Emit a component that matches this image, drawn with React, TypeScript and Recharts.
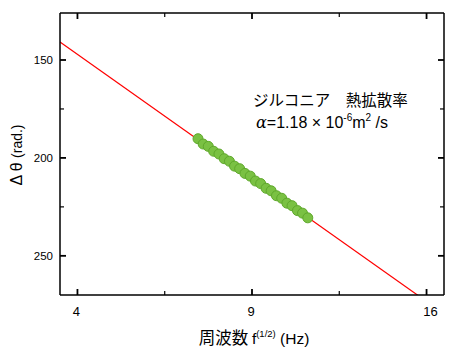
import React from "react";
import { ComposedChart, Line, Scatter, XAxis, YAxis } from "recharts";

const fitX = [3.61, 16.81];
const fitY = [140.8, 279.6];

const measX = [7.24, 7.40, 7.56, 7.73, 7.90, 8.07, 8.24, 8.41, 8.58, 8.76, 8.94, 9.12, 9.30, 9.49, 9.67, 9.86, 10.05, 10.24, 10.43, 10.63, 10.82, 11.02];
const measY = [190.2, 192.9, 194.1, 196.6, 198.0, 200.4, 201.7, 204.2, 205.5, 207.9, 209.3, 211.8, 213.1, 215.5, 216.8, 219.3, 220.6, 223.1, 224.4, 226.9, 228.2, 230.6];

const xTicks = [4, 6.25, 9, 12.25, 16];
const xMajor = [4, 9, 16];
const yTicks = [150, 175, 200, 225, 250];
const yMajor = [150, 200, 250];

const fitData = fitX.map((x, i) => ({ x, y: fitY[i] }));
const measData = measX.map((x, i) => ({ x, y: measY[i] }));

const FONT = "'Liberation Sans', Arial, sans-serif";
const CJK = "'Noto Sans CJK JP', 'Liberation Sans', sans-serif";

const BottomTick = (props: any) => {
  const { x, y, payload } = props;
  const major = xMajor.includes(payload.value);
  return (
    <g>
      <line x1={x} y1={y} x2={x} y2={y - (major ? 6 : 4)} stroke="#000" strokeWidth={major ? 1.8 : 1.2} />
      {major && (
        <text x={payload.value === 16 ? x + 4 : x - 1} y={y + 21} textAnchor="middle" fontSize={13} fontFamily={FONT} fill="#000">
          {payload.value}
        </text>
      )}
    </g>
  );
};

const TopTick = (props: any) => {
  const { x, y, payload } = props;
  const major = xMajor.includes(payload.value);
  return <line x1={x} y1={y} x2={x} y2={y + (major ? 6 : 4)} stroke="#000" strokeWidth={major ? 1.8 : 1.2} />;
};

const LeftTick = (props: any) => {
  const { x, y, payload } = props;
  const major = yMajor.includes(payload.value);
  return (
    <g>
      <line x1={x} y1={y} x2={x + (major ? 6 : 4)} y2={y} stroke="#000" strokeWidth={major ? 1.8 : 1.2} />
      {major && (
        <text x={x - 7} y={y + 4} textAnchor="end" fontSize={11.5} fontFamily={FONT} fill="#000">
          {payload.value}
        </text>
      )}
    </g>
  );
};

const RightTick = (props: any) => {
  const { x, y, payload } = props;
  const major = yMajor.includes(payload.value);
  return <line x1={x} y1={y} x2={x - (major ? 6 : 4)} y2={y} stroke="#000" strokeWidth={major ? 1.8 : 1.2} />;
};

const axisLine = { stroke: "#000", strokeWidth: 1.5 };

export default function App() {
  return (
    <div style={{ position: "absolute", left: 0, top: 0, width: 450, height: 352, background: "#fff" }}>
      <ComposedChart width={450} height={352} margin={{ top: 12, right: 5, bottom: 56, left: 59 }}>
        <XAxis
          xAxisId="b"
          orientation="bottom"
          dataKey="x"
          type="number"
          scale="sqrt"
          domain={[3.61, 16.81]}
          allowDataOverflow
          ticks={xTicks}
          interval={0}
          height={1}
          tickSize={0}
          tickMargin={0}
          tickLine={false}
          tick={BottomTick}
          axisLine={axisLine}
        />
        <XAxis
          xAxisId="t"
          orientation="top"
          dataKey="x"
          type="number"
          scale="sqrt"
          domain={[3.61, 16.81]}
          allowDataOverflow
          ticks={xTicks}
          interval={0}
          height={1}
          tickSize={0}
          tickMargin={0}
          tickLine={false}
          tick={TopTick}
          axisLine={axisLine}
        />
        <YAxis
          yAxisId="l"
          orientation="left"
          type="number"
          reversed
          domain={[126, 270]}
          allowDataOverflow
          ticks={yTicks}
          interval={0}
          width={1}
          tickSize={0}
          tickMargin={0}
          tickLine={false}
          tick={LeftTick}
          axisLine={axisLine}
        />
        <YAxis
          yAxisId="r"
          orientation="right"
          type="number"
          reversed
          domain={[126, 270]}
          allowDataOverflow
          ticks={yTicks}
          interval={0}
          width={1}
          tickSize={0}
          tickMargin={0}
          tickLine={false}
          tick={RightTick}
          axisLine={axisLine}
        />
        <Scatter
          xAxisId="b"
          yAxisId="l"
          data={measData}
          dataKey="y"
          fill="#7ac143"
          shape={(p: any) => <circle cx={p.cx} cy={p.cy} r={5} fill="#7ac143" stroke="#5fa82c" strokeWidth={1} />}
          isAnimationActive={false}
        />
        <Line
          xAxisId="b"
          yAxisId="l"
          data={fitData}
          dataKey="y"
          type="linear"
          stroke="#ff0000"
          strokeWidth={1.2}
          dot={false}
          activeDot={false}
          isAnimationActive={false}
        />
      </ComposedChart>
      <svg width={450} height={352} style={{ position: "absolute", left: 0, top: 0, pointerEvents: "none" }}>
        <text x={254} y={344} textAnchor="middle" fontFamily={CJK} fontSize={16.5} fill="#000">
          <tspan>周波数 </tspan>
          <tspan fontFamily={FONT} fontSize={15.5}>f</tspan>
          <tspan fontFamily={FONT} fontSize={9.5} dy={-7}>(1/2)</tspan>
          <tspan fontFamily={FONT} fontSize={15.5} dy={7}> (Hz)</tspan>
        </text>
        <text
          x={22}
          y={155}
          transform="rotate(-90 22 155)"
          textAnchor="middle"
          fontFamily={FONT}
          fontSize={16}
          fill="#000"
        >
          <tspan>Δ θ </tspan>
          <tspan fontSize={14}>(rad.)</tspan>
        </text>
        <text x={253} y={106} fontFamily={CJK} fontSize={15.5} fill="#000">
          ジルコニア　熱拡散率
        </text>
        <text x={256} y={128} fontFamily={FONT} fontSize={16} fill="#000">
          <tspan fontStyle="italic" fontFamily="'DejaVu Serif', serif">α</tspan>
          <tspan>=1.18 × 10</tspan>
          <tspan fontSize={10} dy={-7}>-6</tspan>
          <tspan dy={7}>m</tspan>
          <tspan fontSize={10} dy={-7}>2</tspan>
          <tspan dy={7}> /s</tspan>
        </text>
      </svg>
    </div>
  );
}
